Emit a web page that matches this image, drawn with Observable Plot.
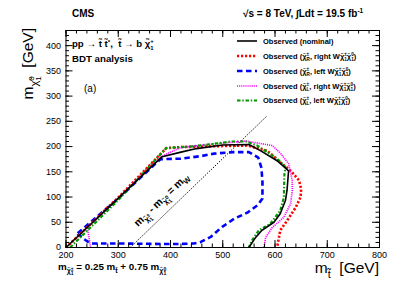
<!DOCTYPE html>
<html><head><meta charset="utf-8">
<script src="https://cdn.jsdelivr.net/npm/d3@7"></script>
<script src="https://cdn.jsdelivr.net/npm/@observablehq/plot@0.6"></script>
<style>body{margin:0;background:#fff}</style>
</head><body>
<script>
// ---- data: [m_stop, m_LSP] in GeV ----
const obsNominal = [[200,0],[290,88],[384,180],[420,189],[450,196],[500,203],[550,204],[572,192],[604,172],[626,152],[623,113],[620,93],[610,67],[598,50],[575,34],[563,20],[550,0]];
const obsChiRRightW = [[200,0],[300,99],[392,197],[420,199],[500,201],[547,202],[572,195],[585,192],[610,169],[630,152],[646,133],[650,116],[649,100],[640,80],[623,53],[610,34],[604,0]];
const obsChiRLeftW = [[222,28],[234,17],[247,8],[300,8],[380,7],[419,7],[445,8],[458,11],[477,21],[499,41],[522,57],[547,69],[567,84],[576,97],[576,130],[574,158],[568,178],[550,189],[520,189],[483,186],[458,181],[419,176],[381,175],[372,167],[300,97],[222,28]];
const obsChiLRightW = [[247,0],[244,20],[241,40],[300,97],[381,179],[400,189],[419,198],[480,205],[544,211],[595,202],[611,186],[626,166],[633,133],[633,113],[630,87],[617,60],[595,40],[582,20],[579,0]];
const obsChiLLeftW = [[208,0],[300,94],[392,197],[438,200],[480,205],[515,210],[545,210],[566,202],[604,176],[620,159],[618,146],[617,99],[610,73],[591,47],[569,34],[556,14],[550,0]];
const mwLine = [[323,0],[585,261]];
const xTicks = [200,300,400,500,600,700,800];
const yTicks = [0,50,100,150,200,250,300,350,400];

const FONT = "'Liberation Sans', Arial, Helvetica, sans-serif";
const W = 399, H = 286, mt = 30, mb = 39, ml = 65.5, mr = 20;
const innerW = W - ml - mr, innerH = H - mt - mb;
const xMinor = d3.range(200, 801, 20), yMinor = d3.range(0, 431, 10);

const styles = {
  nom:  {stroke:"#000", strokeWidth:1.6},
  rr:   {stroke:"#ff0000", strokeWidth:2.6, strokeDasharray:"2.2,1.8"},
  rl:   {stroke:"#0000ff", strokeWidth:2.6, strokeDasharray:"5.5,3.5"},
  lr:   {stroke:"#ff00ff", strokeWidth:1.7, strokeDasharray:"1.1,1"},
  ll:   {stroke:"#009900", strokeWidth:2.2, strokeDasharray:"3.5,1.8,1.4,1.8"}
};
const L = (data, st) => Plot.line(data, {x: d => d[0], y: d => d[1], strokeLinecap: "butt", strokeLinejoin: "miter", ...st});

const plot = Plot.plot({
  width: W, height: H, marginTop: mt, marginBottom: mb, marginLeft: ml, marginRight: mr,
  x: {domain: [200, 800]}, y: {domain: [0, 430]},
  style: {fontFamily: FONT, fontSize: "9px", color: "#000", background: "#fff"},
  marks: [
    L(mwLine, {stroke:"#000", strokeWidth:1, strokeDasharray:"1.3,1.5"}),
    L(obsChiRLeftW, styles.rl),
    L(obsChiRRightW, styles.rr),
    L(obsChiLRightW, styles.lr),
    L(obsChiLLeftW, styles.ll),
    L(obsNominal, styles.nom),
    Plot.frame({stroke:"#000", strokeWidth:1}),
    Plot.tickX(xMinor, {x: d => d, insetTop: innerH - 3.5, stroke:"#000"}),
    Plot.tickX(xTicks, {x: d => d, insetTop: innerH - 7, stroke:"#000"}),
    Plot.tickX(xMinor, {x: d => d, insetBottom: innerH - 3.5, stroke:"#000"}),
    Plot.tickX(xTicks, {x: d => d, insetBottom: innerH - 7, stroke:"#000"}),
    Plot.tickY(yMinor, {y: d => d, insetRight: innerW - 3.5, stroke:"#000"}),
    Plot.tickY(yTicks, {y: d => d, insetRight: innerW - 7, stroke:"#000"}),
    Plot.tickY(yMinor, {y: d => d, insetLeft: innerW - 3.5, stroke:"#000"}),
    Plot.tickY(yTicks, {y: d => d, insetLeft: innerW - 7, stroke:"#000"}),
    Plot.axisX(xTicks, {tickSize: 0, tickPadding: 4, label: null, fontSize: 9}),
    Plot.axisY(yTicks, {tickSize: 0, tickPadding: 5, label: null, fontSize: 9})
  ]
});
document.body.appendChild(plot);

const svg = d3.select(plot);
const layer = svg.append("g").attr("font-family", FONT).attr("text-anchor", "start");

function rich(x, y, tokens, {size, weight = "normal", anchor = "start", rotate = 0}) {
  const g = layer.append("g").attr("transform", `translate(${x},${y}) rotate(${rotate})`);
  const text = g.append("text").attr("font-size", size).attr("font-weight", weight)
    .attr("text-anchor", "start").attr("fill", "#000").style("white-space", "pre");
  let level = 0, pending = 0;
  function emit(tk, dx) {
    const lv = size * (tk.l || 0);
    const ts = text.append("tspan").attr("font-size", size * (tk.s || 1)).attr("dy", lv - level).text(tk.t);
    if (dx) ts.attr("dx", dx);
    level = lv;
    return ts;
  }
  for (const tk of tokens) {
    if (tk.stack) {
      const a = emit(tk.stack[0], pending); pending = 0;
      const la = a.node().getComputedTextLength();
      const b = emit(tk.stack[1], -la);
      const lb = b.node().getComputedTextLength();
      if (la > lb) pending = la - lb;
    } else { emit(tk, pending); pending = 0; }
  }
  if (anchor !== "start") {
    const bb = text.node().getBBox();
    text.attr("x", anchor === "end" ? -(bb.x + bb.width) : -(bb.x + bb.width / 2));
  }
  return g;
}
const N = t => ({t});
const chiS = (up, dn) => [{t:"χ̃", s:.72, l:.3}, {stack:[{t:up, s:.52, l:.05}, {t:dn, s:.52, l:.52}]}];
const chiN = (up, dn) => [{t:"χ̃"}, {stack:[{t:up, s:.62, l:-.38}, {t:dn, s:.62, l:.28}]}];

// header
rich(72, 17, [N("CMS")], {size: 10, weight: "bold"});
rich(243, 17, [N("√s = 8 TeV, ∫Ldt = 19.5 fb"), {t:"-1", s:.65, l:-.4}], {size: 10, weight: "bold"});
// process
rich(72, 47, [N("pp → t̃ t̃"), {t:"*", s:.65, l:-.35}, N(",  t̃ → b "), ...chiN("+", "1")], {size: 9.6, weight: "bold"});
rich(72, 62, [N("BDT analysis")], {size: 9.7, weight: "bold"});
rich(84, 92, [N("(a)")], {size: 10});

// legend
const legend = [
  [styles.nom, [N("Observed (nominal)")]],
  [styles.rr, [N("Observed ("), ...chiN("±", "R"), N(", right W"), ...chiN("±", "1"), ...chiN("0", "1"), N(")")]],
  [styles.rl, [N("Observed ("), ...chiN("±", "R"), N(", left W"), ...chiN("±", "1"), ...chiN("0", "1"), N(")")]],
  [styles.lr, [N("Observed ("), ...chiN("±", "L"), N(", right W"), ...chiN("±", "1"), ...chiN("0", "1"), N(")")]],
  [styles.ll, [N("Observed ("), ...chiN("±", "L"), N(", left W"), ...chiN("±", "1"), ...chiN("0", "1"), N(")")]]
];
const rowY = [41, 56, 71, 86, 100.5];
legend.forEach(([st, toks], i) => {
  layer.append("line").attr("x1", 237).attr("x2", 257).attr("y1", rowY[i]).attr("y2", rowY[i])
    .attr("stroke", st.stroke).attr("stroke-width", st.strokeWidth)
    .attr("stroke-dasharray", st.strokeDasharray || null);
  rich(263, rowY[i] + 2.7, toks, {size: 7.5, weight: "bold"});
});

// diagonal label
rich(138, 227, [N("m"), ...chiS("±", "1"), N(" - m"), ...chiS("0", "1"), N(" = m"), {t:"W", s:.72, l:.3}], {size: 10.5, weight: "bold", rotate: -44});
// bottom-left relation
rich(58, 270, [N("m"), ...chiS("±", "1"), N(" = 0.25 m"), {t:"t̃", s:.72, l:.3}, N(" + 0.75 m"), ...chiS("0", "1")], {size: 9.8, weight: "bold"});
// axis titles
rich(379, 273, [N("m"), {t:"t̃", s:.7, l:.3}, N("  [GeV]")], {size: 15.5, anchor: "end"});
rich(33, 28, [N("m"), ...chiS("0", "1"), N("  [GeV]")], {size: 15.5, anchor: "end", rotate: -90});
</script>
</body></html>
